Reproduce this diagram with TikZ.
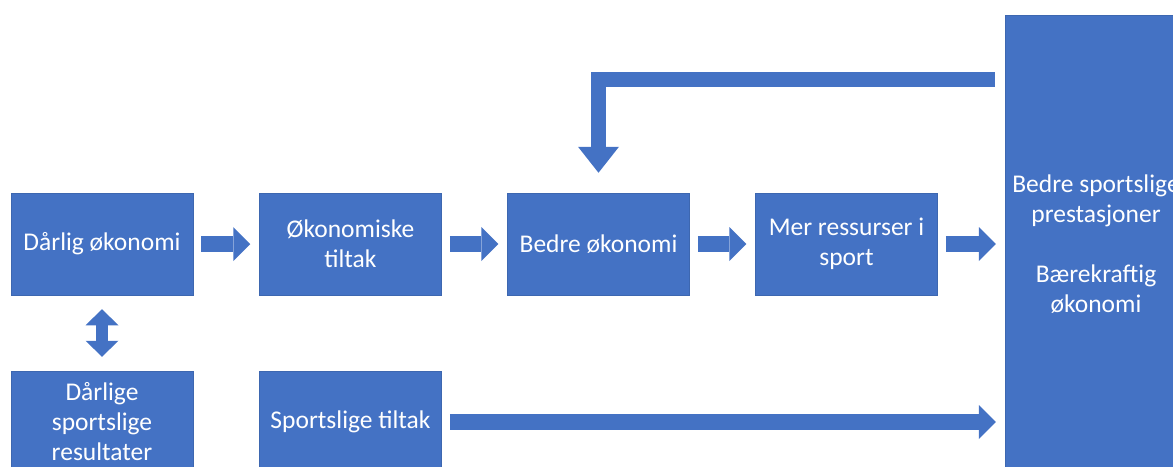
\documentclass[tikz,border=0pt]{standalone}
\usepackage{fontspec}
\setmainfont{Carlito}
\usetikzlibrary{arrows.meta}
\definecolor{boxblue}{HTML}{4472C4}

\begin{document}
\begin{tikzpicture}[x=1pt,y=-1pt,
        box/.style={fill=boxblue,draw=boxblue!90!black,line width=0.5pt,text=white,
          align=center,inner sep=0pt,minimum width=182pt,minimum height=102pt,
          font=\fontsize{25.5}{30}\selectfont},
        flow/.style={draw=boxblue,line width=16pt,shorten <=8pt,shorten >=9pt,
          -{Triangle[width=34pt,length=17pt,line width=0pt]}},
        both/.style={draw=boxblue,line width=12pt,shorten <=14pt,shorten >=14pt,
          {Triangle[width=33pt,length=16pt,line width=0pt]}-{Triangle[width=33pt,length=16pt,line width=0pt]}},
        back/.style={draw=boxblue,line width=15pt,line join=miter,
          -{Triangle[width=41pt,length=26pt,line width=0pt]}}
      ]
      \useasboundingbox (0,0) rectangle (1173,466);
      \clip (0,0) rectangle (1173,466);

      % top row
      \node[box] (bad)    at (102,244)   {Dårlig økonomi};
      \node[box] (ectl)   at (350.5,244) {Økonomiske\\tiltak};
      \node[box] (better) at (598.5,244) {Bedre økonomi};
      \node[box] (res)    at (846.5,244) {Mer ressurser i\\sport};
      \node[box,minimum height=458pt] (goal) at (1096,244)
        {Bedre sportslige\\prestasjoner\\[30pt]Bærekraftig\\økonomi};

      % bottom row
      \node[box] (badres) at (102,422)   {Dårlige\\sportslige\\resultater};
      \node[box] (sctl)   at (350.5,422) {Sportslige tiltak};

      \draw[flow] (bad.east) -- (ectl.west);
      \draw[flow] (ectl.east) -- (better.west);
      \draw[flow] (better.east) -- (res.west);
      \draw[flow] (res.east) -- (goal.west);
      \draw[flow] (sctl.east) -- (sctl.east -| goal.west);
      \draw[both] (bad.south) -- (badres.north);

      % feedback
      \draw[back] ([xshift=-10pt,yshift=-64.5pt]goal.north west) -| ([yshift=20pt]better.north);
    \end{tikzpicture}
\end{document}
